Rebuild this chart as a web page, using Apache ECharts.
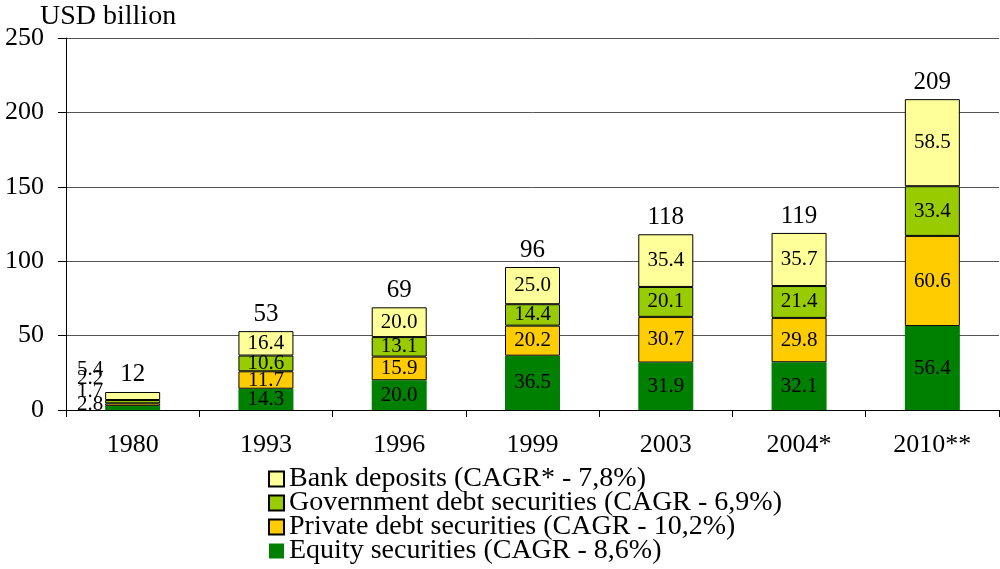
<!DOCTYPE html>
<html><head><meta charset="utf-8">
<script src="https://cdn.jsdelivr.net/npm/echarts@6/dist/echarts.min.js"></script>
<style>html,body{margin:0;padding:0;background:#fff}#c{width:1000px;height:569px}</style>
</head><body><div id="c"></div>
<script>
var categories = ['1980','1993','1996','1999','2003','2004*','2010**'];
var equity = [2.8, 14.3, 20.0, 36.5, 31.9, 32.1, 56.4];
var privateDebt = [1.7, 11.7, 15.9, 20.2, 30.7, 29.8, 60.6];
var govDebt = [2.2, 10.6, 13.1, 14.4, 20.1, 21.4, 33.4];
var bankDeposits = [5.4, 16.4, 20.0, 25.0, 35.4, 35.7, 58.5];
var totals = [12, 53, 69, 96, 118, 119, 209];
var yTicks = [0, 50, 100, 150, 200, 250];
var names = ['Bank deposits (CAGR* - 7,8%)','Government debt securities (CAGR - 6,9%)','Private debt securities (CAGR - 10,2%)','Equity securities (CAGR - 8,6%)'];

var FONT = 'Liberation Serif';
function mk(vals, firstOffset) {
  return vals.map(function (v, i) {
    if (i === 0) {
      return { value: v, label: { position: 'left', distance: 2, offset: [0, firstOffset] } };
    }
    return v;
  });
}
function series(name, vals, color, border, off) {
  return {
    type: 'bar', stack: 'a', barWidth: 55, name: name,
    data: mk(vals, off),
    label: { show: true, position: 'inside', color: '#000', fontFamily: FONT, fontSize: 21,
      formatter: function(p){ return Number(p.value).toFixed(1); } },
    itemStyle: { color: color, borderColor: border ? '#000' : color, borderWidth: border ? 1 : 0 }
  };
}
var chart = echarts.init(document.getElementById('c'));
chart.setOption({
  animation: false,
  textStyle: { fontFamily: FONT },
  title: { text: 'USD billion', left: 40, top: 3, padding: 0, textStyle: { fontFamily: FONT, fontSize: 28, fontWeight: 'normal', color: '#000' } },
  grid: { left: 66, right: 1, top: 38, bottom: 159 },
  legend: {
    orient: 'vertical', left: 268, top: 465, padding: 0, itemWidth: 15, itemHeight: 15, itemGap: -4, height: 110,
    data: names.map(function(n){ return { name: n, icon: 'rect' }; }),
    textStyle: { fontFamily: FONT, fontSize: 28, color: '#000', lineHeight: 24 }
  },
  xAxis: {
    type: 'category', data: categories,
    axisLine: { lineStyle: { color: '#000', width: 1 } },
    axisTick: { show: true, alignWithLabel: false, length: 7, lineStyle: { color: '#000' } },
    axisLabel: { fontFamily: FONT, fontSize: 26, color: '#000', margin: 22 }
  },
  yAxis: {
    type: 'value', min: yTicks[0], max: yTicks[yTicks.length-1], interval: 50,
    axisLine: { show: true, lineStyle: { color: '#000' } },
    axisTick: { show: true, length: 8, lineStyle: { color: '#000' } },
    axisLabel: { fontFamily: FONT, fontSize: 26, color: '#000', margin: 22 },
    splitLine: { lineStyle: { color: '#555', width: 1 } }
  },
  series: [
    series(names[3], equity, '#008000', false, -3),
    series(names[2], privateDebt, '#FFCC00', true, -13),
    series(names[1], govDebt, '#99CC00', true, -23),
    series(names[0], bankDeposits, '#FFFF99', true, -27),
    {
      type: 'bar', stack: 'a', barWidth: 55, name: 'total', silent: true,
      data: totals.map(function(t, i){ return { value: 0, label: i === 0 ? { offset: [0, -1] } : {} }; }),
      itemStyle: { color: 'transparent' },
      label: { show: true, position: 'top', distance: 4, color: '#000', fontFamily: FONT, fontSize: 25,
        formatter: function(p){ return String(totals[p.dataIndex]); } }
    }
  ]
});
</script></body></html>
